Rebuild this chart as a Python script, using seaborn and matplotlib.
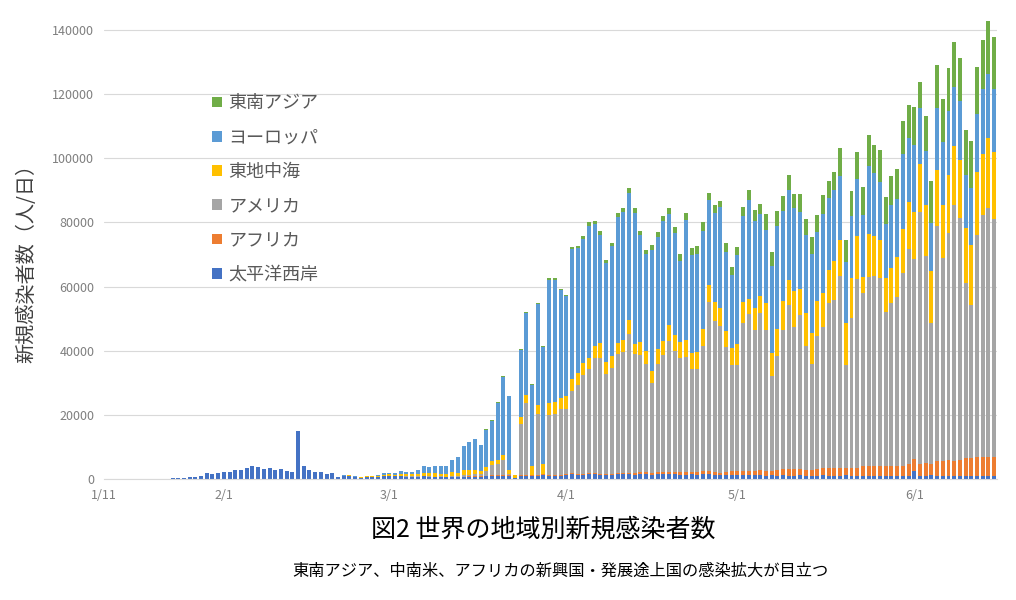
import numpy as np
import pandas as pd
import seaborn as sns
import matplotlib.pyplot as plt
from matplotlib.patches import Patch

# day 0 = 1/11, day 156 = 6/15
tick_pos = [0, 21, 50, 81, 111, 142]
tick_labels = ["1/11", "2/1", "3/1", "4/1", "5/1", "6/1"]

regions = ["太平洋西岸", "アフリカ", "アメリカ", "東地中海", "ヨーロッパ", "東南アジア"]
colors = ["#4472C4", "#ED7D31", "#A5A5A5", "#FFC000", "#5B9BD5", "#70AD47"]

# daily new cases per region
pacific = ([0] * 12 +
           [300, 400, 400, 500, 600, 900, 1800, 1500, 2000, 2200, 2200, 2800,
            2800, 3300, 4000, 3600, 3000, 3300, 2800, 3000, 2500, 2200, 15100] +
           [3900, 2800, 2300, 2300, 1700, 1750, 550, 900, 1000, 600, 450, 700,
            600, 700, 900, 1000, 800, 800, 700, 700, 700, 800, 700, 600] +
           [700, 600, 600, 600, 700, 700, 700, 700, 800, 1000, 1000, 1000,
            1000, 200, 1000, 1000, 1000, 1000, 1200, 1000, 1000, 1000] +
           [1300, 1400, 1200, 1300, 1500, 1400, 1200, 1100, 1300, 1400,
            1500, 1400, 1300, 1600, 1400, 1300, 1500, 1400, 1600, 1400,
            1300, 1200, 1400, 1300, 1500, 1400, 1300, 1100, 1200, 1300,
            1200, 1300, 1100, 1200, 1300, 1000, 1100, 1000, 1100, 1000,
            1000, 1100, 900, 1000, 1000, 1100, 1000, 900, 1000, 1100,
            1000, 900, 1000, 900, 900, 1000, 900, 800, 900, 1000,
            1000, 2500, 1000, 1000, 1100, 900, 1000, 900, 900, 800,
            800, 900, 800, 800, 900, 800])

africa = ([0] * 59 +
          [0, 0, 50, 50, 50, 80, 80, 100,
           100, 100, 100, 150, 150, 0, 200, 200, 200, 300, 300, 300, 300, 300] +
          [400, 400, 400, 400, 500, 400, 400, 400, 400, 500,
           500, 600, 600, 600, 700, 600, 600, 700, 700, 700,
           800, 900, 900, 800, 900, 1000, 1000, 900, 1000, 1100,
           1200, 1300, 1300, 1400, 1400, 1500, 1500, 1800, 2000, 2000,
           2000, 2100, 2000, 1900, 2100, 2300, 2400, 2400, 2500, 2300,
           2400, 2400, 3000, 3000, 3100, 2900, 3000, 3200, 3300, 3100,
           3800, 3800, 3800, 3900, 3700, 4800, 4700, 4900, 4800, 5000,
           5800, 5700, 5900, 6000, 5800, 6200])

america = ([0] * 51 +
           [50, 100, 100, 100, 100, 150, 150, 150] +
           [100, 100, 200, 200, 400, 600, 800, 700,
            1500, 3300, 3700, 4900, 300, 0, 16000, 22500, 0, 19000, 0, 18500,
            19000, 20500] +
           [20000, 25700, 27600, 30700, 32300, 35900, 36200, 31300, 33000, 37200,
            37700, 43200, 37000, 36500, 33900, 28000, 33600, 36700, 40800, 37900,
            35700, 35900, 32100, 32100, 39100, 52800, 46900, 45800, 38800, 33000,
            33100, 46000, 49000, 44000, 49200, 44000, 29400, 35700, 43500, 51300,
            44500, 47800, 38500, 32900, 41600, 44100, 51600, 52400, 59900, 32200,
            46900, 59200, 54000, 59200, 59200, 58900, 48200, 50900, 52400, 60000,
            66800, 62200, 78300, 64700, 43700, 73200, 63100, 70900, 79700, 75600,
            54400, 47700, 69500, 75400, 77800, 74000])

east_med = ([0] * 40 +
            [50, 100, 100, 100, 100, 80, 150, 200, 250, 400, 400, 500, 800, 700,
             600, 900, 1000, 1000, 1100] +
            [900, 1000, 1200, 1000, 1500, 1500, 1200, 1000,
             1200, 1200, 1200, 1500, 1500, 1000, 2100, 2600, 2800, 2800, 3100,
             4000, 3600, 3600] +
            [4200, 3800, 4000, 3900, 3400, 3900, 4600, 3600, 3800, 3400,
             3600, 4400, 3300, 4000, 3800, 3800, 4900, 4300, 4900, 4800,
             4900, 5200, 4900, 5400, 5200, 5200, 6100, 5400, 5200, 5300,
             6500, 6500, 4800, 6700, 5200, 8500, 7300, 8300, 8800, 7800,
             11100, 8300, 10400, 9700, 10900, 10600, 10200, 12200, 11200, 12900,
             12300, 13200, 4900, 13200, 12700, 11700, 10700, 10900, 12500, 13800,
             14900, 14900, 15100, 15900, 16200, 17500, 16600, 18200, 18400, 18000,
             17200, 18700, 19400, 19000, 21800, 21000])

europe = ([0] * 41 +
          [50, 150, 150, 100, 70, 150, 150, 300, 500, 500, 450, 900, 800, 900,
           1200, 2100, 2000, 2200] +
          [2500, 2500, 4000, 5000, 7500, 8800, 9600, 8000,
           11800, 12600, 17800, 24400, 22800, 0, 21000, 25400, 25400, 31500,
           36600, 38400, 38300, 33500] +
          [31200, 40500, 38900, 38600, 41300, 38000, 33600, 31100, 34200, 39200,
           40100, 39500, 40700, 33300, 30200, 37700, 34800, 37300, 34600, 31900,
           25200, 37500, 30600, 30700, 30600, 26600, 27600, 31500, 24700, 22800,
           27800, 26800, 30900, 27100, 25500, 22600, 27000, 32200, 28300, 28000,
           25800, 24000, 24200, 24800, 21400, 24600, 22300, 22100, 20000, 19200,
           19500, 17700, 19500, 21300, 19500, 18200, 16700, 19700, 18200, 23300,
           19700, 20800, 17400, 16700, 15000, 19400, 19600, 19800, 18300, 18400,
           16600, 17800, 18200, 20500, 20000, 19700])

se_asia = ([0] * 67 +
           [100, 100, 100, 200, 200, 0, 200, 300, 300, 300, 300, 400, 400, 400] +
           [300, 500, 500, 800, 1000, 1000, 1200, 800, 1000, 1200,
            1200, 1500, 1600, 1300, 1500, 1500, 1500, 1500, 1800, 1800,
            2100, 2300, 2100, 2300, 2900, 2300, 2600, 2100, 2600, 2700,
            2600, 2900, 3100, 3600, 3300, 5000, 4400, 4500, 4400, 4700,
            4500, 5500, 5000, 5200, 5400, 5900, 5400, 5700, 8600, 6800,
            7800, 8500, 8600, 9700, 8900, 9900, 8500, 9100, 9400, 10400,
            10400, 11700, 8300, 11100, 13200, 13300, 13500, 13300, 14200, 13500,
            14000, 14600, 14600, 15100, 16400, 16100])

df = pd.DataFrame({"day": np.arange(len(pacific)),
                   "太平洋西岸": pacific, "アフリカ": africa, "アメリカ": america,
                   "東地中海": east_med, "ヨーロッパ": europe, "東南アジア": se_asia})
cum = df[regions].cumsum(axis=1)

sns.set_style("white")
plt.rcParams["font.family"] = ["Noto Sans CJK JP", "DejaVu Sans"]

fig = plt.figure(figsize=(10.16, 6.0), dpi=100)
ax = fig.add_axes([0.1024, 0.2017, 0.8789, 0.775])

# stacked bars: draw cumulative totals from the top series down
for reg, col in reversed(list(zip(regions, colors))):
    sns.barplot(x=df["day"], y=cum[reg], color=col, saturation=1,
                width=0.7, linewidth=0, errorbar=None, ax=ax, zorder=2)

ax.set_ylim(0, 145000)
ax.set_xlim(0, len(df) - 0.5)
ax.set_yticks(range(0, 140001, 20000))
ax.set_yticklabels([str(v) for v in range(0, 140001, 20000)])
ax.set_xticks(tick_pos)
ax.set_xticklabels(tick_labels)
ax.tick_params(length=0, labelsize=9.0, labelcolor="#7f7f7f", pad=7)
ax.yaxis.grid(True, color="#d9d9d9", lw=0.8)
ax.set_axisbelow(True)
for s in ["top", "right", "left"]:
    ax.spines[s].set_visible(False)
ax.spines["bottom"].set_color("#d9d9d9")
ax.set_xlabel("")
ax.set_ylabel("")

handles = [Patch(facecolor=c, edgecolor="none", label=r)
           for r, c in zip(regions, colors)][::-1]
leg = ax.legend(handles=handles, loc="upper left", bbox_to_anchor=(0.103, 0.862),
                frameon=False, fontsize=13, labelspacing=0.9,
                handlelength=0.55, handleheight=0.55, handletextpad=0.35)
for t in leg.get_texts():
    t.set_color("#595959")

fig.text(0.027, 0.57, "新規感染者数（人/日）", rotation=90, ha="center", va="center",
         fontsize=14.5, color="#404040")
fig.text(0.535, 0.117, "図2 世界の地域別新規感染者数", ha="center", va="center",
         fontsize=18, color="#000000")
fig.text(0.552, 0.047, "東南アジア、中南米、アフリカの新興国・発展途上国の感染拡大が目立つ",
         ha="center", va="center", fontsize=11.7, color="#000000")

fig.savefig("out.png", dpi=100)
